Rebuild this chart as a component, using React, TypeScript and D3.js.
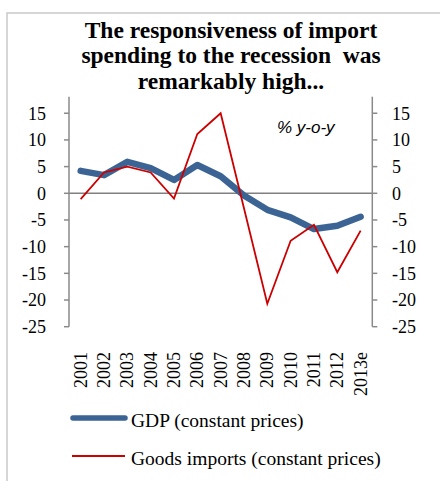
import React from "react";
import * as d3 from "d3";

const years = ["2001","2002","2003","2004","2005","2006","2007","2008","2009","2010","2011","2012","2013e"];
const gdp = [4.2, 3.4, 5.9, 4.7, 2.5, 5.3, 3.2, -0.4, -3.1, -4.5, -6.7, -6.1, -4.4];
const imports = [-1.1, 3.9, 5.0, 3.9, -1.0, 11.1, 15.0, -2.8, -20.7, -8.9, -5.9, -14.8, -7.0];
const yTicks = [15, 10, 5, 0, -5, -10, -15, -20, -25];
const titleLines = ["The responsiveness of import", "spending to the recession  was", "remarkably high..."];

const W = 440, H = 481;
const left = 69, right = 372.3, top = 96.7, bottom = 326.7;

export default function App() {
  const x = d3.scaleBand<string>().domain(years).range([left, right]);
  const y = d3.scaleLinear().domain([-25, 18.1]).range([bottom, top]);
  const cx = (d: string) => (x(d) as number) + x.bandwidth() / 2;
  const line = d3.line<number>().x((_, i) => cx(years[i])).y(v => y(v));
  const axisColor = "#8a8a8a";
  const serif = "'Liberation Serif', 'Times New Roman', serif";

  return (
    <svg width={W} height={H} style={{ position: "absolute", left: 0, top: 0 }}>
      <rect x={0} y={0} width={W} height={H} fill="#fff" />
      <rect x={7} y={13} width={W + 20} height={H + 20} fill="none" stroke="#c9c9c9" strokeWidth={1.5} />

      {/* zero line */}
      <line x1={left} x2={right} y1={y(0)} y2={y(0)} stroke="#808080" strokeWidth={1.5} />

      {/* left axis */}
      <line x1={left} x2={left} y1={top} y2={bottom} stroke={axisColor} strokeWidth={1.5} />
      {yTicks.map(t => (
        <g key={"l" + t}>
          <line x1={left - 5} x2={left} y1={y(t)} y2={y(t)} stroke={axisColor} strokeWidth={1.5} />
          <text x={46} y={y(t)} dy="0.35em" textAnchor="end" fontFamily={serif} fontSize={18} fill="#000">{t}</text>
        </g>
      ))}
      {/* right axis */}
      <line x1={right} x2={right} y1={top} y2={bottom} stroke={axisColor} strokeWidth={1.5} />
      {yTicks.map(t => (
        <g key={"r" + t}>
          <line x1={right} x2={right + 5} y1={y(t)} y2={y(t)} stroke={axisColor} strokeWidth={1.5} />
          <text x={392} y={y(t)} dy="0.35em" textAnchor="start" fontFamily={serif} fontSize={18} fill="#000">{t}</text>
        </g>
      ))}

      {/* category labels */}
      {years.map(d => (
        <text key={d} transform={`translate(${cx(d) + 6},352) rotate(-90)`} textAnchor="end"
          fontFamily={serif} fontSize={18} fill="#000">{d}</text>
      ))}

      {/* series */}
      <path d={line(gdp) || ""} fill="none" stroke="#3b6494" strokeWidth={6.5} strokeLinejoin="round" strokeLinecap="round" />
      <path d={line(imports) || ""} fill="none" stroke="#cc0000" strokeWidth={1.8} strokeLinejoin="miter" />

      {/* title */}
      <rect x={8} y={14} width={W} height={82} fill="#fff" />
      {titleLines.map((t, i) => (
        <text key={i} x={231} y={37.5 + i * 25.5} textAnchor="middle" fontFamily={serif} fontWeight="bold" fontSize={23.5}
          fill="#000" style={{ whiteSpace: "pre" }}>{t}</text>
      ))}

      <text x={277} y={133} fontFamily="'Liberation Sans', Arial, sans-serif" fontStyle="italic" fontSize={17} fill="#000">% y-o-y</text>

      {/* legend */}
      <line x1={73} x2={125} y1={418} y2={418} stroke="#3b6494" strokeWidth={5.5} strokeLinecap="round" />
      <text x={131} y={427} fontFamily={serif} fontSize={19.5} fill="#000">GDP (constant prices)</text>
      <line x1={72} x2={125} y1={456} y2={456} stroke="#cc0000" strokeWidth={1.8} />
      <text x={131} y={465} fontFamily={serif} fontSize={19.5} fill="#000">Goods imports (constant prices)</text>
    </svg>
  );
}
